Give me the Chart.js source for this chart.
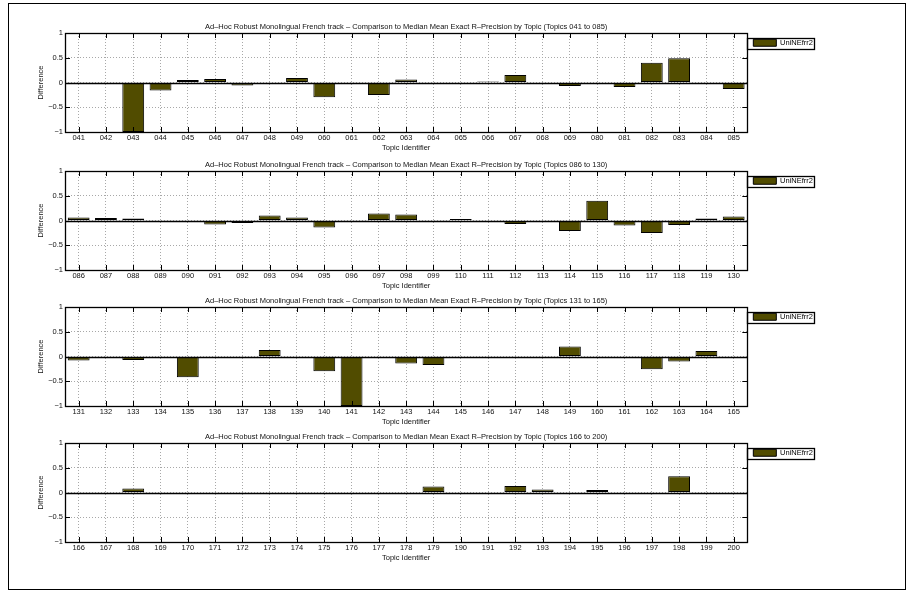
<!DOCTYPE html>
<html>
<head>
<meta charset="utf-8">
<script src="https://cdn.jsdelivr.net/npm/chart.js@4.4.1/dist/chart.umd.min.js"></script>
<style>
  html, body { margin: 0; padding: 0; background: #fff; }
  body { width: 912px; height: 591px; position: relative; overflow: hidden; }
  #frame { position: absolute; left: 8px; top: 3px; width: 896px; height: 585px; border: 1px solid #000; }
  .panel { position: absolute; left: 0; width: 912px; height: 149px; }
</style>
</head>
<body>
<div id="frame"></div>
<div class="panel" style="top:3px"><canvas id="c1"></canvas></div>
<div class="panel" style="top:141px"><canvas id="c2"></canvas></div>
<div class="panel" style="top:277px"><canvas id="c3"></canvas></div>
<div class="panel" style="top:413px"><canvas id="c4"></canvas></div>
<script>
// data
const topics1 = ['041','042','043','044','045','046','047','048','049','060','061','062','063','064','065','066','067','068','069','080','081','082','083','084','085'];
const diffs1  = [0, 0, -1, -0.16, 0.05, 0.07, -0.06, 0, 0.09, -0.30, 0, -0.25, 0.06, 0, 0, 0.02, 0.15, 0.01, -0.07, -0.02, -0.09, 0.40, 0.49, 0, -0.13];

const topics2 = ['086','087','088','089','090','091','092','093','094','095','096','097','098','099','110','111','112','113','114','115','116','117','118','119','130'];
const diffs2  = [0.06, 0.05, 0.04, 0, 0, -0.08, -0.05, 0.10, 0.06, -0.14, 0, 0.14, 0.12, 0, 0.03, 0, -0.07, 0, -0.21, 0.40, -0.10, -0.25, -0.09, 0.04, 0.08];

const topics3 = ['131','132','133','134','135','136','137','138','139','140','141','142','143','144','145','146','147','148','149','160','161','162','163','164','165'];
const diffs3  = [-0.08, 0, -0.07, 0, -0.42, 0, 0, 0.13, -0.03, -0.30, -1, 0, -0.14, -0.17, 0, 0, 0, 0, 0.20, 0, 0, -0.26, -0.10, 0.11, 0];

const topics4 = ['166','167','168','169','170','171','172','173','174','175','176','177','178','179','190','191','192','193','194','195','196','197','198','199','200'];
const diffs4  = [0, 0, 0.08, 0, 0, 0, 0, 0, 0, 0, 0, 0, 0, 0.12, 0, 0, 0.13, 0.06, 0, 0.05, 0, -0.03, 0.33, -0.02, -0.03];

const topicRanges = ['041 to 085', '086 to 130', '131 to 165', '166 to 200'];
const yTicks = [-1, -0.5, 0, 0.5, 1];
const yTickLabels = ['\u22121', '\u22120.5', '0', '0.5', '1'];
const seriesName = 'UniNEfrr2';
const titleBase = 'Ad\u2013Hoc Robust Monolingual French track \u2013 Comparison to Median Mean Exact R\u2013Precision by Topic';

const barColor = '#514c00';
const gridColor = '#a8a8a8';
const font = { family: '"Liberation Sans", Arial, sans-serif', size: 7.5 };
const textColor = '#111';

// frame, zero line, inward ticks and legend box, matlab style
const matlabFrame = {
  id: 'matlabFrame',
  afterDraw(chart) {
    const { ctx, chartArea: a, scales: { x, y } } = chart;
    const tl = 5;
    ctx.save();
    ctx.strokeStyle = '#000';
    ctx.lineWidth = 1;
    ctx.beginPath();
    x.ticks.forEach((t, i) => {
      const px = Math.round(x.getPixelForTick(i)) + 0.5;
      ctx.moveTo(px, a.top); ctx.lineTo(px, a.top + tl);
      ctx.moveTo(px, a.bottom); ctx.lineTo(px, a.bottom - tl);
    });
    y.ticks.forEach((t, i) => {
      const py = Math.round(y.getPixelForTick(i)) + 0.5;
      ctx.moveTo(a.left, py); ctx.lineTo(a.left + tl, py);
      ctx.moveTo(a.right, py); ctx.lineTo(a.right - tl, py);
    });
    ctx.stroke();
    // baseline at zero
    const y0 = Math.round(y.getPixelForValue(0)) + 0.5;
    ctx.lineWidth = 1.3;
    ctx.beginPath();
    ctx.moveTo(a.left, y0); ctx.lineTo(a.right, y0);
    ctx.stroke();
    ctx.strokeRect(Math.round(a.left) + 0.5, Math.round(a.top) + 0.5, Math.round(a.width), Math.round(a.height));
    const lg = chart.legend;
    if (lg && lg.legendHitBoxes && lg.legendHitBoxes.length) {
      const h = lg.legendHitBoxes[0];
      const l = Math.round(a.right) + 0.5;
      ctx.strokeRect(l, Math.round(h.top - 1) + 0.5, Math.round(h.left + h.width + 1 - l), 11);
    }
    ctx.restore();
  }
};

function makePanel(id, topics, diffs, range) {
  return new Chart(document.getElementById(id), {
    type: 'bar',
    data: {
      labels: topics,
      datasets: [{
        label: seriesName,
        data: diffs,
        backgroundColor: barColor,
        borderColor: '#000',
        borderWidth: 1,
        borderSkipped: false,
        barPercentage: 0.8,
        categoryPercentage: 1
      }]
    },
    options: {
      responsive: true,
      maintainAspectRatio: false,
      animation: false,
      devicePixelRatio: 1,
      layout: { padding: { left: 32, right: 89, top: 19.5, bottom: 0 } },
      scales: {
        x: {
          offset: true,
          ticks: { font: font, color: textColor, padding: 1.5, maxRotation: 0, autoSkip: false },
          grid: { offset: false, color: gridColor, drawTicks: false },
          border: { display: false, dash: [1, 2] },
          title: { display: true, text: 'Topic Identifier', font: font, color: textColor, padding: 0 },
          afterFit: (s) => { s.height = 20; }
        },
        y: {
          min: -1,
          max: 1,
          ticks: {
            stepSize: 0.5,
            font: font,
            color: textColor,
            padding: 2,
            callback: (v) => yTickLabels[yTicks.indexOf(v)]
          },
          grid: { color: gridColor, drawTicks: false },
          border: { display: false, dash: [1, 2] },
          title: { display: true, text: 'Difference', font: font, color: textColor, padding: { top: 4, bottom: 0 } },
          afterFit: (s) => { s.width = 33; }
        }
      },
      plugins: {
        title: {
          display: true,
          text: titleBase + ' (Topics ' + range + ')',
          fullSize: false,
          font: { family: font.family, size: 7.5, weight: 'normal' },
          color: textColor,
          padding: { top: 0, bottom: 1.5 }
        },
        legend: {
          position: 'right',
          align: 'start',
          fullSize: false,
          labels: { boxWidth: 23, boxHeight: 7, padding: 6, font: font, color: '#000' }
        },
        tooltip: { enabled: false }
      }
    },
    plugins: [matlabFrame]
  });
}

makePanel('c1', topics1, diffs1, topicRanges[0]);
makePanel('c2', topics2, diffs2, topicRanges[1]);
makePanel('c3', topics3, diffs3, topicRanges[2]);
makePanel('c4', topics4, diffs4, topicRanges[3]);
</script>
</body>
</html>
